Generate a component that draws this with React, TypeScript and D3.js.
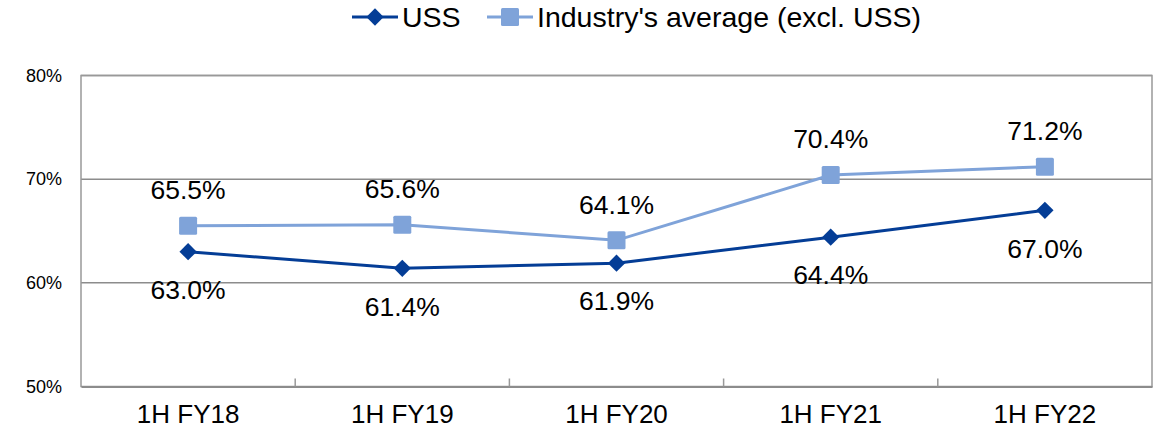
import { useEffect, useRef } from "react";
import * as d3 from "d3";

const categories = ["1H FY18", "1H FY19", "1H FY20", "1H FY21", "1H FY22"];
const ussValues = [63.0, 61.4, 61.9, 64.4, 67.0];
const industryValues = [65.5, 65.6, 64.1, 70.4, 71.2];
const yTicks = [50, 60, 70, 80];

const USS_COLOR = "#043d96";
const IND_COLOR = "#7fa3d9";
const FONT = "Liberation Sans, Arial, sans-serif";

const App = () => {
  const ref = useRef<SVGSVGElement>(null);

  useEffect(() => {
    if (!ref.current) return;
    const svg = d3.select(ref.current);
    svg.selectAll("*").remove();

    const left = 81;
    const right = 1152;
    const top = 75.5;
    const bottom = 386.5;

    const x = d3.scaleBand().domain(categories).range([left, right]);
    const y = d3.scaleLinear().domain([50, 80]).range([bottom, top]);
    const cx = (c: string) => (x(c) ?? 0) + x.bandwidth() / 2;

    // gridlines
    svg
      .append("g")
      .selectAll("line")
      .data(yTicks.slice(1))
      .enter()
      .append("line")
      .attr("x1", left)
      .attr("x2", right)
      .attr("y1", (d) => y(d))
      .attr("y2", (d) => y(d))
      .attr("stroke", "#8c8c8c")
      .attr("stroke-width", 1.5);

    // frame
    svg
      .append("rect")
      .attr("x", left)
      .attr("y", top)
      .attr("width", right - left)
      .attr("height", bottom - top)
      .attr("fill", "none")
      .attr("stroke", "#999")
      .attr("stroke-width", 1.5);

    // x axis (inner ticks at category boundaries)
    const xAxis = svg
      .append("g")
      .attr("transform", `translate(0,${bottom})`)
      .call(d3.axisBottom(x).tickSize(0).tickPadding(18));
    xAxis.select(".domain").attr("stroke", "#8c8c8c").attr("stroke-width", 2);
    xAxis
      .selectAll("text")
      .attr("font-family", FONT)
      .attr("font-size", 26)
      .attr("fill", "#000");

    svg
      .append("g")
      .selectAll("line")
      .data(categories.slice(1))
      .enter()
      .append("line")
      .attr("x1", (d) => x(d) ?? 0)
      .attr("x2", (d) => x(d) ?? 0)
      .attr("y1", bottom)
      .attr("y2", bottom - 8)
      .attr("stroke", "#999")
      .attr("stroke-width", 1.5);

    // y labels
    svg
      .append("g")
      .selectAll("text")
      .data(yTicks)
      .enter()
      .append("text")
      .attr("x", 62)
      .attr("y", (d) => y(d))
      .attr("dy", "0.35em")
      .attr("text-anchor", "end")
      .attr("font-family", FONT)
      .attr("font-size", 18)
      .text((d) => `${d}%`);

    const line = d3
      .line<number>()
      .x((_, i) => cx(categories[i]))
      .y((d) => y(d));

    // industry series
    svg
      .append("path")
      .datum(industryValues)
      .attr("d", line)
      .attr("fill", "none")
      .attr("stroke", IND_COLOR)
      .attr("stroke-width", 3);
    svg
      .append("g")
      .selectAll("rect")
      .data(industryValues)
      .enter()
      .append("rect")
      .attr("x", (_, i) => cx(categories[i]) - 9)
      .attr("y", (d) => y(d) - 9)
      .attr("width", 18)
      .attr("height", 18)
      .attr("rx", 1.5)
      .attr("fill", IND_COLOR);

    // USS series
    svg
      .append("path")
      .datum(ussValues)
      .attr("d", line)
      .attr("fill", "none")
      .attr("stroke", USS_COLOR)
      .attr("stroke-width", 3);
    const diamond = d3.symbol().type(d3.symbolDiamond2).size(190);
    svg
      .append("g")
      .selectAll("path")
      .data(ussValues)
      .enter()
      .append("path")
      .attr("d", diamond)
      .attr("transform", (d, i) => `translate(${cx(categories[i])},${y(d)})`)
      .attr("fill", USS_COLOR);

    // data labels
    svg
      .append("g")
      .selectAll("text")
      .data(industryValues)
      .enter()
      .append("text")
      .attr("x", (_, i) => cx(categories[i]))
      .attr("y", (d) => y(d) - 36)
      .attr("dy", "0.35em")
      .attr("text-anchor", "middle")
      .attr("font-family", FONT)
      .attr("font-size", 26.5)
      .text((d) => `${d.toFixed(1)}%`);
    svg
      .append("g")
      .selectAll("text")
      .data(ussValues)
      .enter()
      .append("text")
      .attr("x", (_, i) => cx(categories[i]))
      .attr("y", (d) => y(d) + 38)
      .attr("dy", "0.35em")
      .attr("text-anchor", "middle")
      .attr("font-family", FONT)
      .attr("font-size", 26.5)
      .text((d) => `${d.toFixed(1)}%`);

    // legend
    const lg = svg.append("g").attr("transform", "translate(0,17)");
    lg.append("line")
      .attr("x1", 352)
      .attr("x2", 398)
      .attr("stroke", USS_COLOR)
      .attr("stroke-width", 3);
    lg.append("path")
      .attr("d", diamond)
      .attr("transform", "translate(375,0)")
      .attr("fill", USS_COLOR);
    lg.append("text")
      .attr("x", 402)
      .attr("dy", "0.35em")
      .attr("font-family", FONT)
      .attr("font-size", 28.5)
      .text("USS");
    lg.append("line")
      .attr("x1", 487)
      .attr("x2", 533)
      .attr("stroke", IND_COLOR)
      .attr("stroke-width", 3);
    lg.append("rect")
      .attr("x", 501)
      .attr("y", -9)
      .attr("width", 18)
      .attr("height", 18)
      .attr("rx", 1.5)
      .attr("fill", IND_COLOR);
    lg.append("text")
      .attr("x", 537)
      .attr("dy", "0.35em")
      .attr("font-family", FONT)
      .attr("font-size", 28.5)
      .text("Industry's average (excl. USS)");
  }, []);

  return (
    <svg
      ref={ref}
      width={1158}
      height={434}
      style={{ position: "absolute", left: 0, top: 0, background: "#fff" }}
    />
  );
};

export default App;
